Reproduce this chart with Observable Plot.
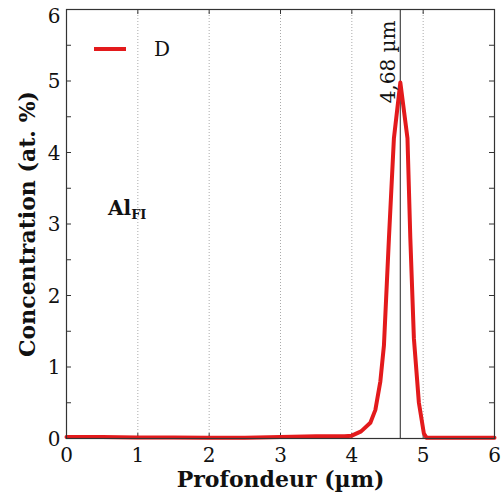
<!DOCTYPE html>
<html><head><meta charset="utf-8">
<script src="https://cdn.jsdelivr.net/npm/d3@7"></script>
<script src="https://cdn.jsdelivr.net/npm/@observablehq/plot@0.6"></script>
<style>
body{margin:0;background:#fff;}
#wrap{position:relative;width:502px;height:497px;font-family:"DejaVu Serif",serif;}
.legend{position:absolute;left:94px;top:37px;display:flex;align-items:center;font-size:20px;color:#111;}
.legend svg{margin-right:28px;}
.label{position:absolute;left:108px;top:196px;font-weight:bold;font-size:20px;color:#111;}
.label sub{font-size:13px;vertical-align:-4px;}
</style></head>
<body><div id="wrap"></div>
<script>
const depth = [0,0.5,1,1.5,2,2.5,3,3.5,3.9,4.0,4.13,4.26,4.33,4.40,4.45,4.52,4.59,4.68,4.78,4.82,4.87,4.94,5.01,5.05,5.5,6];
const conc  = [0.02,0.02,0.015,0.015,0.01,0.01,0.02,0.03,0.03,0.04,0.1,0.22,0.4,0.8,1.3,2.8,4.2,4.98,4.2,2.8,1.4,0.5,0.07,0.01,0.01,0.01];
const seriesName = "D";
const peakX = 4.68;
const peakLabel = "4,68 µm";
const xTicks = [0,1,2,3,4,5,6];
const yTicks = [0,1,2,3,4,5];
const yTop = [6];
const yMinor = d3.range(0, 6.01, 0.5);
const gridX = [1,2,3,4,5];
const xTitle = "Profondeur (µm)";
const yTitle = "Concentration (at. %)";

const data = depth.map((x,i)=>({x, y: conc[i]}));
const W = 502, H = 497, mL = 66, mR = 8, mT = 9, mB = 59;
const pw = W - mL - mR, ph = H - mT - mB, tk = 5;

const chart = Plot.plot({
  width: W, height: H,
  marginLeft: mL, marginRight: mR, marginTop: mT, marginBottom: mB,
  style: {fontFamily: "DejaVu Serif, serif", fontSize: "20px", color: "#111", background: "#fff"},
  x: {domain: [0,6]},
  y: {domain: [0,6]},
  marks: [
    Plot.ruleX(gridX, {x: d=>d, stroke: "#aaa", strokeDasharray: "1,2", strokeWidth: 1}),
    Plot.ruleY(yMinor, {y: d=>d, insetRight: pw - tk, stroke: "#333"}),
    Plot.ruleY(yMinor, {y: d=>d, insetLeft: pw - tk, stroke: "#333"}),
    Plot.ruleX(xTicks, {x: d=>d, insetTop: ph - tk, stroke: "#333"}),
    Plot.ruleX(xTicks, {x: d=>d, insetBottom: ph - tk, stroke: "#333"}),
    Plot.ruleX([peakX], {x: d=>d, stroke: "#555", strokeWidth: 1.3}),
    Plot.line(data, {x: "x", y: "y", stroke: "#e31a1c", strokeWidth: 4, strokeLinejoin: "round"}),
    Plot.frame({stroke: "#333", strokeWidth: 1.2}),
    Plot.axisX(xTicks, {tickSize: 0, tickPadding: 9, label: null, fontSize: 20, tickFormat: d3.format("d")}),
    Plot.axisY(yTicks, {tickSize: 0, tickPadding: 6, label: null, fontSize: 20, tickFormat: d3.format("d"), dy: 1}),
    Plot.axisY(yTop, {tickSize: 0, tickPadding: 6, label: null, fontSize: 20, tickFormat: d3.format("d"), dy: 7}),
    Plot.text([peakLabel], {x: () => peakX, frameAnchor: "top", text: d=>d, rotate: -90, textAnchor: "end", dy: 11, dx: -20, fontSize: 20}),
    Plot.text([xTitle], {frameAnchor: "bottom", text: d=>d, textAnchor: "middle", dy: 48, fontWeight: "bold", fontSize: 22}),
    Plot.text([yTitle], {frameAnchor: "left", text: d=>d, textAnchor: "middle", rotate: -90, dx: -39, fontWeight: "bold", fontSize: 22})
  ]
});
const wrap = document.getElementById("wrap");
wrap.appendChild(chart);
const leg = document.createElement("div");
leg.className = "legend";
leg.innerHTML = `<svg width="32" height="6"><line x1="0" y1="3" x2="32" y2="3" stroke="#e31a1c" stroke-width="4"/></svg><span>${seriesName}</span>`;
wrap.appendChild(leg);
const lab = document.createElement("div");
lab.className = "label";
lab.innerHTML = "Al<sub>FI</sub>";
wrap.appendChild(lab);
</script></body></html>
